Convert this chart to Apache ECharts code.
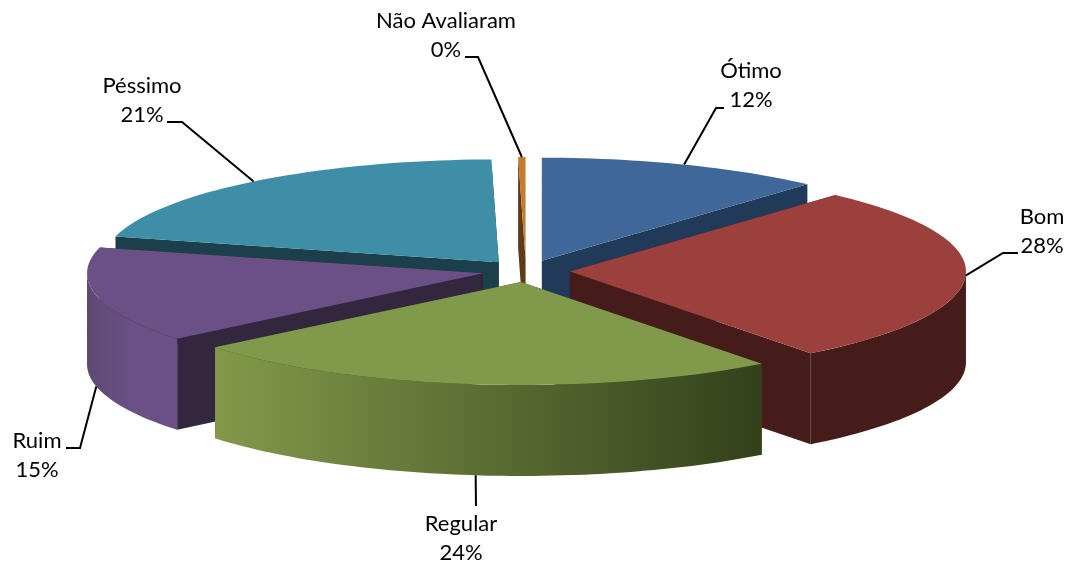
<!DOCTYPE html>
<html>
<head>
<meta charset="utf-8">
<style>html,body{margin:0;padding:0;background:#fff}#c{width:1068px;height:566px}</style>
<script src="https://cdn.jsdelivr.net/npm/echarts@6/dist/echarts.min.js"></script>
</head>
<body>
<div id="c"></div>
<script>
const categories = ['Ótimo', 'Bom', 'Regular', 'Ruim', 'Péssimo', 'Não Avaliaram'];
const values = [11.7, 27.9, 24.45, 15, 20.65, 0.3];

const topColors = ['#3f6899', '#9c403d', '#81994a', '#6a5085', '#3d8ea6', '#c87b30'];
const cutColors = ['#213a59', '#451c19', '#3a4a1e', '#33273f', '#1b3f4b', '#5e3a17'];
const wallStops = [null, ['#451c19', '#451c19'], ['#82994a', '#33401b'], ['#5e4974', '#6a5085', '#6a5085'], null, null];

const pie = { cx: 526, cy: 271, a: 396, b: 103, depth: 91, explode: 44, explodeY: 11 };
const labelLayout = [
  { x: 751, y: 71, elbow: [716, 108], end: [724, 108] },
  { x: 1042, y: 217, elbow: [1003, 253], end: [1018, 253] },
  { x: 461, y: 524, elbow: [476, 506], end: [476, 506] },
  { x: 37, y: 441, elbow: [80, 448], end: [66, 448] },
  { x: 142, y: 86, elbow: [182, 122], end: [167, 122] },
  { x: 446, y: 21, elbow: [478, 57], end: [465, 57] }
];
const lineGap = 29;

function rad(d) { return d * Math.PI / 180; }

const total = values.reduce((s, v) => s + v, 0);
let acc = 0;
const rows = values.map((v, i) => {
  const start = acc / total * 360;
  acc += v;
  return [v, start, acc / total * 360, i];
});
rows.sort((p, q) => Math.cos(rad((q[1] + q[2]) / 2)) - Math.cos(rad((p[1] + p[2]) / 2)));

function rim(ox, oy, t) {
  return [ox + pie.a * Math.sin(rad(t)), oy - pie.b * Math.cos(rad(t))];
}
function arc(ox, oy, t0, t1) {
  const pts = [];
  const n = Math.max(2, Math.ceil(Math.abs(t1 - t0) / 1.5));
  for (let k = 0; k <= n; k++) pts.push(rim(ox, oy, t0 + (t1 - t0) * k / n));
  return pts;
}
const down = p => [p[0], p[1] + pie.depth];

function renderItem(params, api) {
  const start = api.value(1), end = api.value(2), i = api.value(3), mid = (start + end) / 2;
  const ox = pie.cx + pie.explode * Math.sin(rad(mid));
  const oy = pie.cy - pie.explodeY * Math.cos(rad(mid));
  const apex = [ox, oy];
  const children = [];
  const poly = (points, fill) => children.push({
    type: 'polygon', shape: { points }, style: { fill, stroke: null }, silent: true
  });

  [start, end].forEach(t => {
    const p = rim(ox, oy, t);
    poly([apex, p, down(p), down(apex)], cutColors[i]);
  });

  const w0 = Math.max(start, 90), w1 = Math.min(end, 270);
  if (w1 > w0 && wallStops[i]) {
    const top = arc(ox, oy, w0, w1);
    const xs = top.map(p => p[0]);
    const stops = wallStops[i];
    poly(top.concat(top.slice().reverse().map(down)), {
      type: 'linear', global: true, x: Math.min(...xs), y: 0, x2: Math.max(...xs), y2: 0,
      colorStops: stops.map((color, k) => ({ offset: k / (stops.length - 1), color }))
    });
  }
  poly([apex].concat(arc(ox, oy, start, end)), topColors[i]);

  const anchorTop = rim(ox, oy, mid);
  const anchor = Math.cos(rad(mid)) < -0.1 ? down(anchorTop) : anchorTop;
  const lay = labelLayout[i];
  children.push({
    type: 'polyline', silent: true, z2: 20,
    shape: { points: [anchor, lay.elbow, lay.end] },
    style: { stroke: '#000', lineWidth: 2, fill: null }
  });
  [categories[i], Math.round(api.value(0)) + '%'].forEach((str, k) => children.push({
    type: 'text', silent: true, z2: 20,
    x: lay.x, y: lay.y + k * lineGap,
    style: { text: str, font: '22px Lato', fill: '#000', align: 'center', verticalAlign: 'middle' }
  }));
  return { type: 'group', children };
}

const chart = echarts.init(document.getElementById('c'), null, { renderer: 'canvas' });
chart.setOption({
  animation: false,
  backgroundColor: '#ffffff',
  series: [{
    type: 'custom',
    coordinateSystem: 'none',
    renderItem,
    data: rows,
    clip: false
  }]
});
</script>
</body>
</html>
